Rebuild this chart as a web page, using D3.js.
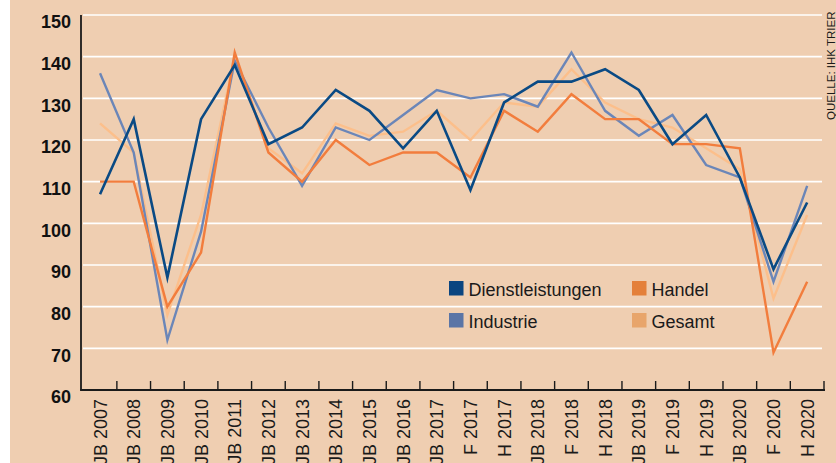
<!DOCTYPE html>
<html>
<head>
<meta charset="utf-8">
<script src="https://cdn.jsdelivr.net/npm/d3@7"></script>
<style>
  html, body { margin: 0; padding: 0; background: #ffffff; }
  svg { display: block; }
  text { font-family: "Liberation Sans", Arial, sans-serif; }
</style>
</head>
<body>
<svg id="chart" width="836" height="463"></svg>
<script>
const categories = ["JB 2007","JB 2008","JB 2009","JB 2010","JB 2011","JB 2012","JB 2013","JB 2014","JB 2015","JB 2016",
  "JB 2017","F 2017","H 2017","JB 2018","F 2018","H 2018","JB 2019","F 2019","H 2019","JB 2020","F 2020","H 2020"];
const dienstleistungen = [107,125,87,125,138,119,123,132,127,118,127,108,129,134,134,137,132,119,126,111,89,105];
const handel           = [110,110,80,93,141,117,110,120,114,117,117,111,127,122,131,125,125,119,119,118,69,86];
const industrie        = [136,117,72,98,139,123,109,123,120,126,132,130,131,128,141,127,121,126,114,111,86,109];
const gesamt           = [124,117,78,102,140,118,112,124,121,122,127,120,129,128,137,129,125,123,118,113,82,102];
const yTicks = [60,70,80,90,100,110,120,130,140,150];
const seriesNames = ["Dienstleistungen","Handel","Industrie","Gesamt"];
const sourceText = "QUELLE: IHK TRIER";

const lineColors = {Dienstleistungen:"#0a4a84", Handel:"#f27d3d", Industrie:"#6b86b8", Gesamt:"#fcbf8b"};
const legendColors = {Dienstleistungen:"#0b4580", Handel:"#e4803a", Industrie:"#5b75a6", Gesamt:"#e8a56b"};
const seriesData = {Dienstleistungen:dienstleistungen, Handel:handel, Industrie:industrie, Gesamt:gesamt};

const svg = d3.select("#chart");
svg.append("rect").attr("x",10).attr("y",0).attr("width",826).attr("height",463).attr("fill","#efceb1");

const x = d3.scaleBand().domain(categories).range([83.2, 824]).paddingInner(0).paddingOuter(0);
const y = d3.scaleLinear().domain([60,150]).range([390,15]);
const cx = c => x(c) + x.bandwidth()/2;

// gridlines
svg.append("g").selectAll("line").data(yTicks.filter(v => v > 60)).join("line")
  .attr("x1", 83).attr("x2", 822)
  .attr("y1", d => y(d)).attr("y2", d => y(d))
  .attr("stroke","#ffffff").attr("stroke-width",1.6);

// y labels
svg.append("g").selectAll("text").data(yTicks).join("text")
  .attr("x", 71).attr("y", d => y(d) + 13.3)
  .attr("text-anchor","end").attr("font-weight","bold").attr("font-size",18).attr("fill","#111")
  .text(d => d);

// lines
const line = d3.line().x((d,i) => cx(categories[i])).y(d => y(d));
["Gesamt","Industrie","Handel","Dienstleistungen"].forEach(name => {
  svg.append("path").datum(seriesData[name])
    .attr("d", line).attr("fill","none")
    .attr("stroke", lineColors[name]).attr("stroke-width", name === "Dienstleistungen" ? 2.6 : 2.4)
    .attr("stroke-linejoin","miter").attr("stroke-miterlimit",10);
});

// axes
svg.append("line").attr("x1",81).attr("x2",81).attr("y1",y(150)).attr("y2",y(60)+0.8)
  .attr("stroke","#1a1a1a").attr("stroke-width",1.8);
svg.append("line").attr("x1",80.2).attr("x2",x.range()[1]+1).attr("y1",y(60)).attr("y2",y(60))
  .attr("stroke","#1a1a1a").attr("stroke-width",1.8);
svg.append("g").selectAll("line").data(categories).join("line")
  .attr("x1", c => x(c) + x.bandwidth()).attr("x2", c => x(c) + x.bandwidth())
  .attr("y1", y(60)).attr("y2", y(60) - 9)
  .attr("stroke","#1a1a1a").attr("stroke-width",1.4);

// x labels
svg.append("g").selectAll("text").data(categories).join("text")
  .attr("transform", c => `translate(${cx(c)},399) rotate(-90)`)
  .attr("text-anchor","end").attr("dy","0.36em")
  .attr("font-size",18).attr("fill","#1a1a1a")
  .text(c => c);

// legend
const legendItems = [
  {name:"Dienstleistungen", x:449, y:281},
  {name:"Handel", x:632, y:281},
  {name:"Industrie", x:449, y:313},
  {name:"Gesamt", x:632, y:313}
];
const lg = svg.append("g").selectAll("g").data(legendItems).join("g")
  .attr("transform", d => `translate(${d.x},${d.y})`);
lg.append("rect").attr("width",14.5).attr("height",14.5).attr("fill", d => legendColors[d.name]);
lg.append("text").attr("x",19.5).attr("y",14.5).attr("font-size",18).attr("fill","#1a1a1a").text(d => d.name);

// source
svg.append("text").attr("transform","translate(834.5,120) rotate(-90)")
  .attr("font-size",11.5).attr("fill","#1a1a1a").text(sourceText);
</script>
</body>
</html>
